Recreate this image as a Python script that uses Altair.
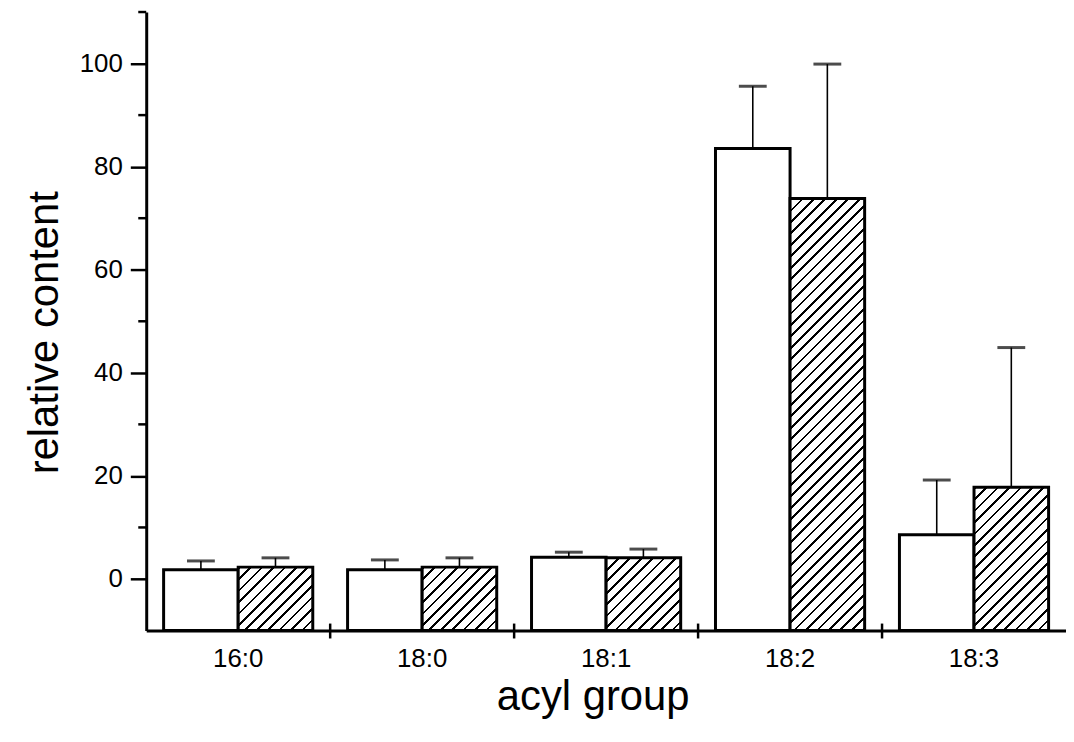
import altair as alt
import pandas as pd

# ---- data ----
acyl = ["16:0", "18:0", "18:1", "18:2", "18:3"]
series = ["series 1", "series 2"]
mean_1 = [1.8, 1.8, 4.2, 83.5, 8.6]
err_1 = [1.7, 1.9, 1.0, 12.1, 10.6]
mean_2 = [2.3, 2.3, 4.1, 73.8, 17.8]
err_2 = [1.8, 1.8, 1.7, 26.1, 27.1]
y_ticks = [0, 20, 40, 60, 80, 100]
y_minor = [10, 30, 50, 70, 90, 110]

rows = []
for i, a in enumerate(acyl):
    rows.append({"acyl": a, "series": series[0], "value": mean_1[i], "err": err_1[i]})
    rows.append({"acyl": a, "series": series[1], "value": mean_2[i], "err": err_2[i]})
df = pd.DataFrame(rows)

# ---- layout / style constants ----
W_PLOT, H_PLOT = 925, 622
Y_MIN, Y_MAX = -10, 110
BAR_W = 75.0          # px, width of one bar (xOffset step)
PERIOD = 11.5         # horizontal spacing of hatch lines, px
LINE = 0.24           # fraction of period that is black
N = 70                # number of hatch stripes in gradient
FONT = "Liberation Sans"
X_TITLE = "acyl group"
Y_TITLE = "relative content"

px_per_unit = H_PLOT / (Y_MAX - Y_MIN)

stops = []
for k in range(N):
    a = k / N
    b = (k + LINE) / N
    c = (k + 1) / N
    stops.append("{offset:%.6f,color:'black'}" % a)
    stops.append("{offset:%.6f,color:'black'}" % b)
    stops.append("{offset:%.6f,color:'white'}" % b)
    stops.append("{offset:%.6f,color:'white'}" % c)

den = "(%f + datum.hpx*datum.hpx)" % (BAR_W * BAR_W)
grad_expr = (
    "datum.series == '%s' ? {gradient:'linear', x1:0, y1:0, "
    "x2: %f / %s, y2: %f * datum.hpx / %s, stops:[%s]} : 'white'"
    % (series[1], PERIOD * BAR_W * N, den, PERIOD * N, den, ",".join(stops))
)

base = alt.Chart(df).transform_calculate(
    hpx="(datum.value - (%f)) * %f" % (Y_MIN, px_per_unit),
    upper="datum.value + datum.err",
).transform_calculate(fillv=grad_expr)

x_scale = alt.Scale(domain=acyl, paddingInner=0, paddingOuter=0)
xo = alt.XOffset("series:N", scale=alt.Scale(domain=series, paddingInner=0,
                                              paddingOuter=(W_PLOT / len(acyl) / BAR_W - 2) / 2))
y_scale = alt.Scale(domain=[Y_MIN, Y_MAX], nice=False, zero=False)

x_axis = alt.Axis(
    labelAngle=0, ticks=False, tickSize=0, domainWidth=3, domainColor="black",
    labelFontSize=26, labelFont=FONT, labelColor="black", labelPadding=36,
    labelBaseline="alphabetic",
    titleFont=FONT, titleFontSize=42, titleFontWeight="normal",
    titleColor="black", titleX=449, titleY=79, titleBaseline="alphabetic",
    titleAlign="center", titleAnchor="start",
)
y_axis = alt.Axis(
    values=y_ticks, tickSize=16, tickWidth=2.5, tickColor="black",
    domainWidth=3, domainColor="black", grid=False,
    labelFontSize=26, labelFont=FONT, labelColor="black", labelPadding=8,
    titleFont=FONT, titleFontSize=42,
    titleFontWeight="normal", titleColor="black", titleX=-89, titleY=322,
    titleAngle=270, titleBaseline="alphabetic", titleAlign="center", titleAnchor="start",
)

bars = base.mark_bar(stroke="black", strokeWidth=3).encode(
    x=alt.X("acyl:N", scale=x_scale, axis=x_axis, title=X_TITLE),
    xOffset=xo,
    y=alt.Y("value:Q", scale=y_scale, axis=y_axis, title=Y_TITLE),
    y2=alt.datum(Y_MIN),
    fill=alt.Fill("fillv:N", scale=None),
)

stems = base.mark_rule(color="black", strokeWidth=1.6).encode(
    x=alt.X("acyl:N", title=X_TITLE),
    xOffset=xo,
    y=alt.Y("value:Q", title=Y_TITLE),
    y2="upper:Q",
)

caps = base.mark_tick(color="black", thickness=3, size=28).encode(
    x=alt.X("acyl:N", title=X_TITLE),
    xOffset=xo,
    y=alt.Y("upper:Q", title=Y_TITLE),
)

xticks = alt.Chart(pd.DataFrame({"acyl": acyl[1:], "base": [Y_MIN] * 4})).mark_rule(
    color="black", strokeWidth=2.5, yOffset=-7, y2Offset=8
).encode(
    x=alt.X("acyl:N", bandPosition=0, title=X_TITLE),
    y=alt.Y("base:Q", title=Y_TITLE),
    y2="base:Q",
)

minor = alt.Chart(pd.DataFrame({"v": y_minor})).mark_rule(
    color="black", strokeWidth=2.5
).encode(
    y=alt.Y("v:Q", title=Y_TITLE),
    x=alt.value(-8),
    x2=alt.value(0),
)

chart = alt.layer(bars, stems, caps, xticks, minor).properties(
    width=W_PLOT, height=H_PLOT,
    autosize=alt.AutoSizeParams(type="none"),
    padding={"left": 139, "top": 2, "right": 0, "bottom": 100},
    background="white",
).configure_view(stroke=None)

chart.save("out.html", embed_options={"renderer": "svg", "actions": False})
